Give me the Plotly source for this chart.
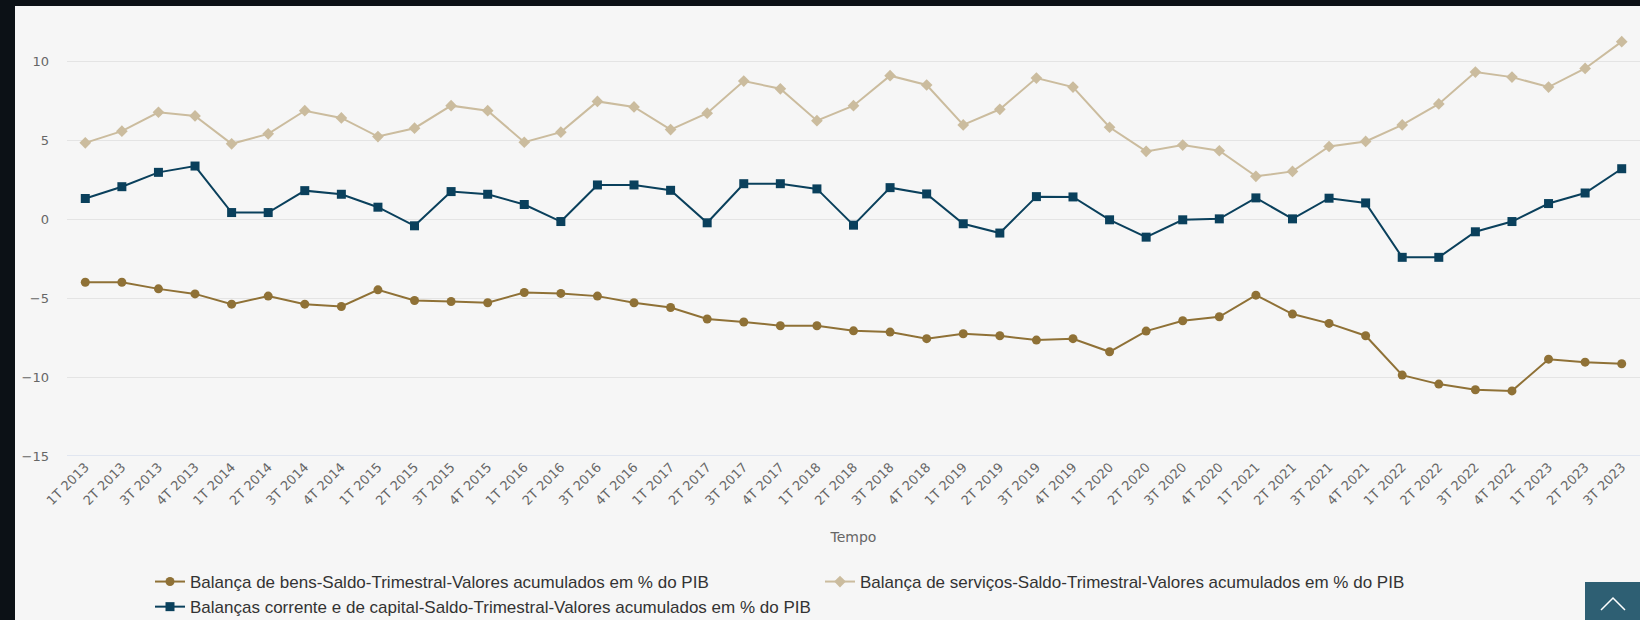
import plotly.graph_objects as go

quarters = [
    "1T 2013", "2T 2013", "3T 2013", "4T 2013",
    "1T 2014", "2T 2014", "3T 2014", "4T 2014",
    "1T 2015", "2T 2015", "3T 2015", "4T 2015",
    "1T 2016", "2T 2016", "3T 2016", "4T 2016",
    "1T 2017", "2T 2017", "3T 2017", "4T 2017",
    "1T 2018", "2T 2018", "3T 2018", "4T 2018",
    "1T 2019", "2T 2019", "3T 2019", "4T 2019",
    "1T 2020", "2T 2020", "3T 2020", "4T 2020",
    "1T 2021", "2T 2021", "3T 2021", "4T 2021",
    "1T 2022", "2T 2022", "3T 2022", "4T 2022",
    "1T 2023", "2T 2023", "3T 2023",
]

bens = [
    -3.98, -3.98, -4.40, -4.72,
    -5.37, -4.86, -5.37, -5.52,
    -4.46, -5.14, -5.20, -5.28,
    -4.63, -4.69, -4.86, -5.28,
    -5.58, -6.31, -6.50, -6.74,
    -6.74, -7.06, -7.14, -7.56,
    -7.25, -7.37, -7.65, -7.56,
    -8.39, -7.08, -6.42, -6.17,
    -4.80, -6.00, -6.59, -7.37,
    -9.87, -10.44, -10.80, -10.87,
    -8.86, -9.05, -9.15,
]

servicos = [
    4.86, 5.60, 6.80, 6.57,
    4.80, 5.43, 6.90, 6.44,
    5.26, 5.79, 7.22, 6.90,
    4.90, 5.54, 7.49, 7.14,
    5.70, 6.74, 8.78, 8.29,
    6.27, 7.22, 9.12, 8.53,
    6.00, 6.99, 8.97, 8.40,
    5.85, 4.32, 4.72, 4.36,
    2.74, 3.05, 4.63, 4.95,
    6.00, 7.33, 9.35, 9.03,
    8.40, 9.58, 11.28,
]

corrente_capital = [
    1.33, 2.08, 2.99, 3.39,
    0.44, 0.44, 1.83, 1.60,
    0.78, -0.40, 1.77, 1.60,
    0.95, -0.13, 2.19, 2.19,
    1.85, -0.21, 2.27, 2.27,
    1.94, -0.36, 2.02, 1.62,
    -0.27, -0.86, 1.45, 1.43,
    -0.02, -1.12, -0.02, 0.04,
    1.37, 0.04, 1.35, 1.05,
    -2.40, -2.40, -0.78, -0.13,
    1.01, 1.68, 3.22,
]

y_ticks = [-15, -10, -5, 0, 5, 10]
y_tick_text = ["\u221215", "\u221210", "\u22125", "0", "5", "10"]

names = [
    "Balança de bens-Saldo-Trimestral-Valores acumulados em % do PIB",
    "Balança de serviços-Saldo-Trimestral-Valores acumulados em % do PIB",
    "Balanças corrente e de capital-Saldo-Trimestral-Valores acumulados em % do PIB",
]

C_BENS = "#8f7136"
C_SERV = "#cbbc9e"
C_CORR = "#0a405c"
DARK = "#0c1116"
PANEL = "#f6f6f6"

W, H = 1640, 620
ML, MR, MT, MB = 67, 0, 6, 164
PW = W - ML - MR
PH = H - MT - MB


def px_x(p):
    return (p - ML) / PW


def px_y(p):
    return (H - MB - p) / PH


fig = go.Figure()
fig.add_trace(go.Scatter(
    x=quarters, y=bens, name=names[0], mode="lines+markers",
    line=dict(color=C_BENS, width=2),
    marker=dict(symbol="circle", size=9, color=C_BENS),
))
fig.add_trace(go.Scatter(
    x=quarters, y=servicos, name=names[1], mode="lines+markers",
    line=dict(color=C_SERV, width=2),
    marker=dict(symbol="diamond", size=9, color=C_SERV),
))
fig.add_trace(go.Scatter(
    x=quarters, y=corrente_capital, name=names[2], mode="lines+markers",
    line=dict(color=C_CORR, width=2),
    marker=dict(symbol="square", size=9, color=C_CORR),
))

shapes = [
    # dark page strips (left, top)
    dict(type="rect", xref="paper", yref="paper", x0=px_x(-2), x1=px_x(15),
         y0=px_y(H + 2), y1=px_y(-2), fillcolor=DARK, line=dict(width=0), layer="above"),
    dict(type="rect", xref="paper", yref="paper", x0=px_x(-2), x1=px_x(W + 2),
         y0=px_y(6), y1=px_y(-2), fillcolor=DARK, line=dict(width=0), layer="above"),
    # back-to-top button
    dict(type="rect", xref="paper", yref="paper", x0=px_x(1585), x1=px_x(W + 2),
         y0=px_y(H + 2), y1=px_y(582), fillcolor="#2e5f73", line=dict(width=0), layer="above"),
    dict(type="path", xref="paper", yref="paper",
         path="M {} {} L {} {} L {} {}".format(px_x(1601), px_y(610), px_x(1613), px_y(598),
                                             px_x(1625), px_y(610)),
         line=dict(color="#ffffff", width=1.5), layer="above"),
]

fig.update_layout(
    width=W, height=H,
    margin=dict(l=ML, r=MR, t=MT, b=MB, autoexpand=False),
    paper_bgcolor=PANEL,
    plot_bgcolor=PANEL,
    font=dict(family="DejaVu Sans", color="#666666"),
    showlegend=True,
    legend=dict(
        orientation="h",
        x=px_x(150), xanchor="left",
        y=px_y(564), yanchor="top",
        entrywidth=625, entrywidthmode="pixels",
        itemwidth=30,
        font=dict(family="Liberation Sans", size=17, color="#333333"),
        bgcolor="rgba(0,0,0,0)",
        tracegroupgap=0,
    ),
    xaxis=dict(
        type="category",
        range=[-0.5, len(quarters) - 0.5],
        tickangle=-45,
        tickfont=dict(family="DejaVu Sans", size=13, color="#666666"),
        showgrid=False,
        showline=False,
        zeroline=False,
        ticks="",
        automargin=False,
        title=dict(text="Tempo", font=dict(family="DejaVu Sans", size=14, color="#666666"), standoff=25),
        fixedrange=True,
    ),
    yaxis=dict(
        range=[-15, 13.54],
        tickvals=y_ticks,
        ticktext=y_tick_text,
        tickfont=dict(family="DejaVu Sans", size=13, color="#666666"),
        showgrid=True,
        gridcolor="#e4e4e4",
        gridwidth=1,
        zeroline=False,
        showline=False,
        ticks="",
        automargin=False,
        ticklabelstandoff=17,
    ),
    shapes=shapes,
)

# axis baseline at -15 (light blue like the reference)
fig.add_hline(y=-15, line=dict(color="#ccd6eb", width=1), layer="below")

fig.write_html(
    "out.html",
    config={"displayModeBar": False},
    post_script="document.body.style.margin='0';document.body.style.overflow='hidden';"
                "document.body.style.background='" + PANEL + "';",
)
